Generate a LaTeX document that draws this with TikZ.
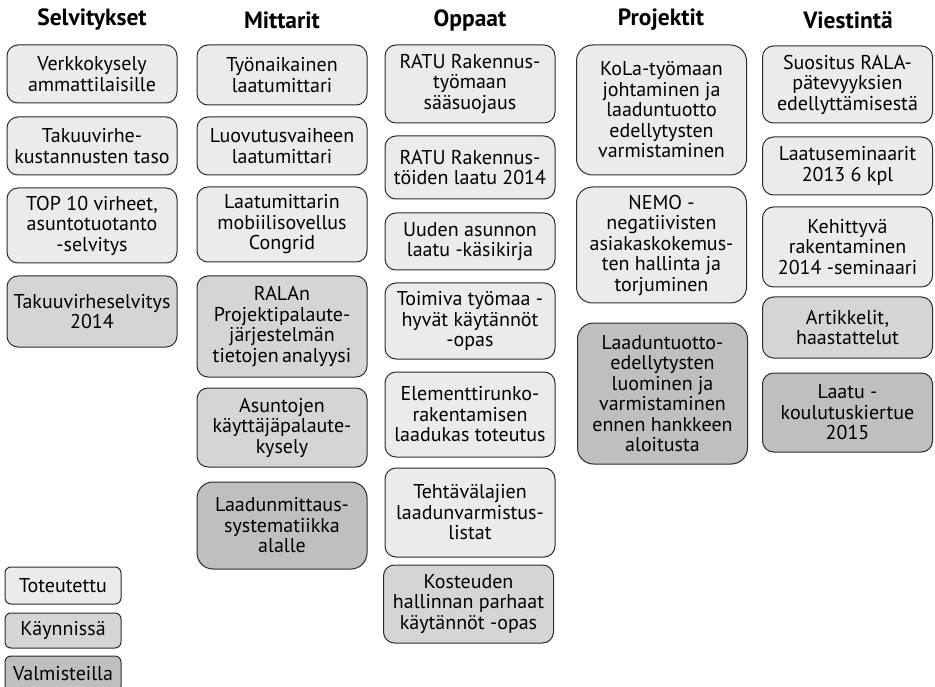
\documentclass[tikz,border=0pt]{standalone}
\usepackage{fontspec}
\setmainfont{PT Sans}
\usetikzlibrary{positioning}

\definecolor{edge}{HTML}{2B2B2B}
\definecolor{donefill}{HTML}{EBEBEB}
\definecolor{runfill}{HTML}{D5D5D6}
\definecolor{planfill}{HTML}{BFBFC0}

\tikzset{
  head/.style={font=\fontsize{23.5}{25}\selectfont\bfseries},
  card/.style={draw=edge, line width=1pt, rounded corners=11pt, align=center,
    inner sep=0pt, minimum width=170pt,
    font=\fontsize{20}{20.5}\selectfont},
  bigcard/.style={card, rounded corners=16pt},
  keycard/.style={card, rounded corners=6pt, minimum width=116pt},
  done/.style={fill=donefill},
  running/.style={fill=runfill},
  planned/.style={fill=planfill}
}

\begin{document}
\begin{tikzpicture}[x=1pt, y=-1pt]
	\useasboundingbox (0,0) rectangle (935,687);

	% otsikot
	\node[head] (hsel) at (92,20) {Selvitykset};
	\node[head] (hmit) at (282,20) {Mittarit};
	\node[head] (hopp) at (470,20) {Oppaat};
	\node[head] (hpro) at (661,20) {Projektit};
	\node[head] (hvie) at (848,20) {Viestintä};

	% Selvitykset
	\node[card, done, minimum height=58pt] (sel1) at (92,74) {Verkkokysely\\ammattilaisille};
	\node[card, done, minimum height=58pt] (sel2) at (92,146) {Takuuvirhe-\\kustannusten taso};
	\node[card, done, minimum height=75pt] (sel3) at (92,225.5) {TOP 10 virheet,\\asuntotuotanto\\-selvitys};
	\node[card, running, minimum height=71pt] (sel4) at (92,311.5) {Takuuvirheselvitys\\2014};

	% Mittarit
	\node[card, done, minimum height=60pt] (mit1) at (282,75) {Työnaikainen\\laatumittari};
	\node[card, done, minimum height=58pt] (mit2) at (282,146) {Luovutusvaiheen\\laatumittari};
	\node[card, done, minimum height=75pt] (mit3) at (282,224.5) {Laatumittarin\\mobiilisovellus\\Congrid};
	\node[card, running, minimum height=101pt] (mit4) at (282,326.5) {RALAn\\Projektipalaute-\\järjestelmän\\tietojen\,analyysi};
	\node[card, running, minimum height=79pt] (mit5) at (282,427.5) {Asuntojen\\käyttäjäpalaute-\\kysely};
	\node[bigcard, planned, minimum height=87pt] (mit6) at (282,525.5) {Laadunmittaus-\\systematiikka\\alalle};

	% Oppaat
	\node[card, done, minimum height=78pt] (opp1) at (470,84) {RATU Rakennus-\\työmaan\\sääsuojaus};
	\node[card, done, minimum height=63pt] (opp2) at (470,167.5) {RATU Rakennus-\\töiden laatu 2014};
	\node[card, done, minimum height=57pt] (opp3) at (470,241.5) {Uuden asunnon\\laatu -käsikirja};
	\node[card, done, minimum height=76pt] (opp4) at (470,321) {Toimiva työmaa -\\hyvät käytännöt\\-opas};
	\node[card, done, minimum height=85pt] (opp5) at (470,414.5) {Elementtirunko-\\rakentamisen\\laadukas toteutus};
	\node[card, done, minimum height=89pt] (opp6) at (470,512.5) {Tehtävälajien\\laadunvarmistus-\\listat};
	\node[card, running, minimum height=78pt] (opp7) at (468.5,604) {Kosteuden\\hallinnan parhaat\\käytännöt -opas};

	% Projektit
	\node[bigcard, done, minimum height=130pt] (pro1) at (661.5,110) {KoLa-työmaan\\johtaminen ja\\laaduntuotto\\edellytysten\\varmistaminen};
	\node[bigcard, done, minimum height=116pt] (pro2) at (661.5,245) {NEMO -\\negatiivisten\\asiakaskokemus-\\ten hallinta ja\\torjuminen};
	\node[bigcard, planned, minimum height=141pt] (pro3) at (662.5,393.5) {Laaduntuotto-\\edellytysten\\luominen ja\\varmistaminen\\ennen hankkeen\\aloitusta};

	% Viestintä
	\node[card, done, minimum height=77pt] (vie1) at (847.5,84.5) {Suositus RALA-\\pätevyyksien\\edellyttämisestä};
	\node[card, done, minimum height=58pt] (vie2) at (847.5,166) {Laatuseminaarit\\2013 6 kpl};
	\node[card, done, minimum height=80pt] (vie3) at (847.5,247) {Kehittyvä\\rakentaminen\\2014 -seminaari};
	\node[card, running, minimum height=61pt] (vie4) at (847.5,327.5) {Artikkelit,\\haastattelut};
	\node[card, planned, minimum height=79pt] (vie5) at (847.5,412.5) {Laatu -\\koulutuskiertue\\2015};

	% selite
	\node[keycard, done, minimum height=37pt] (key1) at (63,585.5) {Toteutettu};
	\node[keycard, running, minimum height=35pt] (key2) at (63,630.5) {Käynnissä};
	\node[keycard, planned, minimum height=36pt] (key3) at (63,674) {Valmisteilla};
\end{tikzpicture}
\end{document}
